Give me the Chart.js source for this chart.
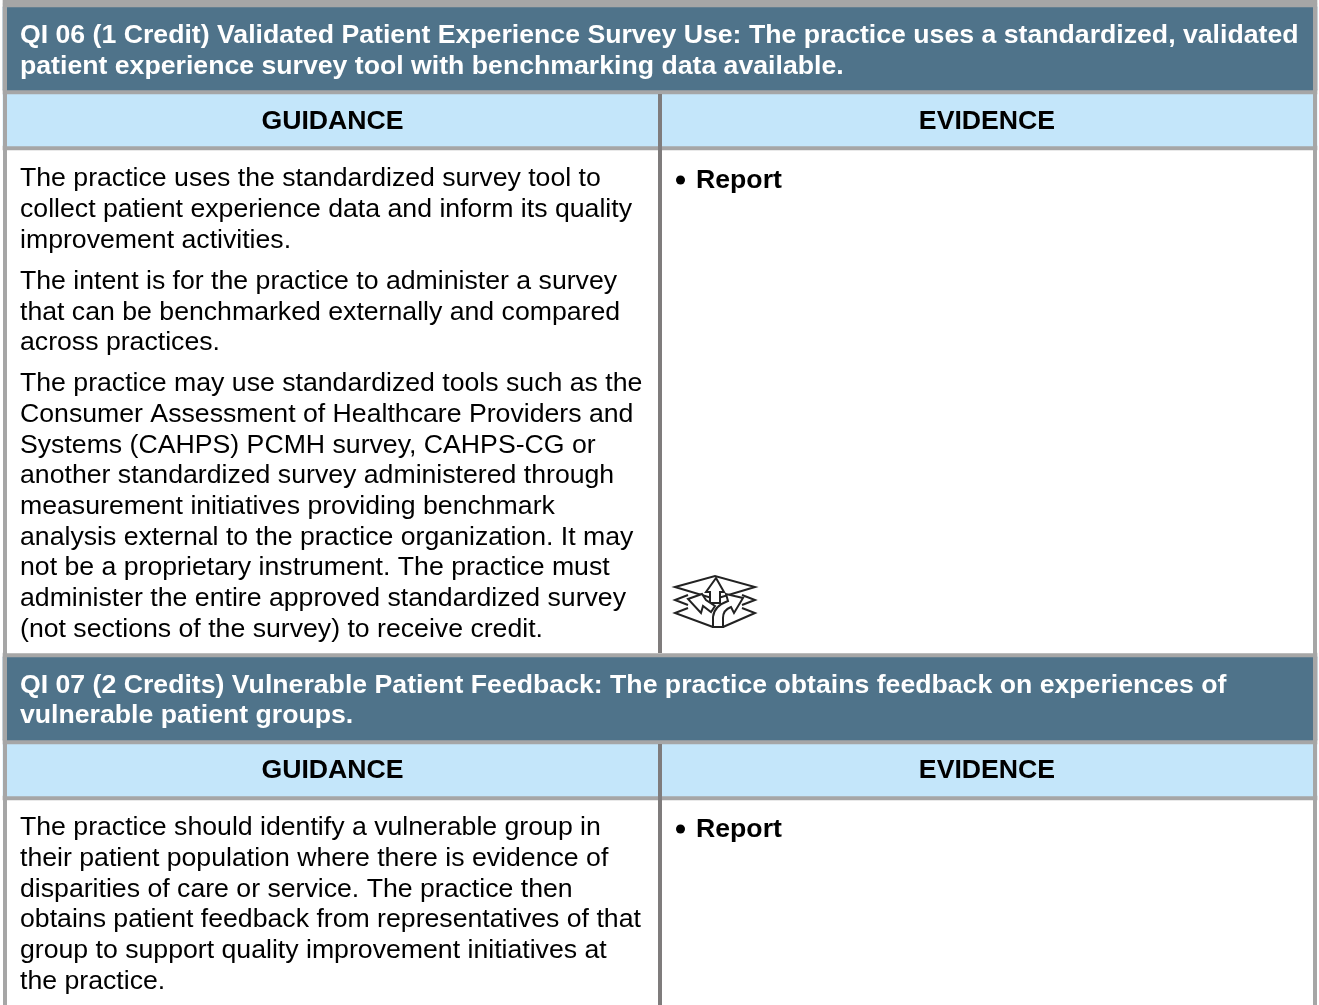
<!DOCTYPE html>
<html lang="en">
<head>
    <meta charset="UTF-8">
    <title>QI 06 / QI 07</title>
    <style>
        html, body { margin: 0; padding: 0; background: #fff; overflow: hidden; }
        #wrap { width: 1319px; height: 1005px; }
    </style>
    <script src="https://cdn.jsdelivr.net/npm/chart.js"></script>
</head>
<body>
<div id="wrap"><canvas id="table"></canvas></div>
<script>
// row heights of the table, top to bottom
const rowNames = ['top', 'rule', 'head1', 'rule', 'sub1', 'rule', 'body1', 'rule', 'head2', 'rule', 'sub2', 'rule', 'body2'];
const rowHeights = [4, 3, 83, 4, 52, 4, 503, 4, 83, 4, 52, 4, 205];

const header1 = ['QI 06 (1 Credit) Validated Patient Experience Survey Use: The practice uses a standardized, validated',
    'patient experience survey tool with benchmarking data available.'];
const header2 = ['QI 07 (2 Credits) Vulnerable Patient Feedback: The practice obtains feedback on experiences of',
    'vulnerable patient groups.'];
const columnTitles = ['GUIDANCE', 'EVIDENCE'];
const evidenceItem = 'Report';
const guidance1 = [
    'The practice uses the standardized survey tool to',
    'collect patient experience data and inform its quality',
    'improvement activities.',
    'The intent is for the practice to administer a survey',
    'that can be benchmarked externally and compared',
    'across practices.',
    'The practice may use standardized tools such as the',
    'Consumer Assessment of Healthcare Providers and',
    'Systems (CAHPS) PCMH survey, CAHPS-CG or',
    'another standardized survey administered through',
    'measurement initiatives providing benchmark',
    'analysis external to the practice organization. It may',
    'not be a proprietary instrument. The practice must',
    'administer the entire approved standardized survey',
    '(not sections of the survey) to receive credit.'
];
const guidance2 = [
    'The practice should identify a vulnerable group in',
    'their patient population where there is evidence of',
    'disparities of care or service. The practice then',
    'obtains patient feedback from representatives of that',
    'group to support quality improvement initiatives at',
    'the practice.'
];

const guidance1Y = [179, 210, 241, 282, 313, 343, 384, 415, 446, 476, 507, 538, 568, 599, 630];
const guidance2Y = [828, 859, 890, 920, 951, 982];

const GRAY = '#a6a6a6', DIVIDER = '#7f7c7c', HEAD = '#4f738a', SUB = '#c4e6fa';
const rowColors = { top: GRAY, rule: GRAY, head1: HEAD, head2: HEAD, sub1: SUB, sub2: SUB, body1: '#ffffff', body2: '#ffffff' };

function rule(x, y0, y1, color) {
    return {
        type: 'line', yAxisID: 'yRule', order: 0,
        data: [{ x: x, y: y0 }, { x: x, y: y1 }],
        borderColor: color, borderWidth: 4, pointRadius: 0, borderCapStyle: 'butt'
    };
}

const bands = rowNames.map((name, i) => ({
    type: 'bar', order: 1, stack: 'rows',
    data: [{ x: 660, y: rowHeights[i] }],
    backgroundColor: rowColors[name],
    barThickness: 1314,
    borderWidth: 0
}));

function drawIcon(ctx) {
    ctx.save();
    ctx.translate(674, 575);
    ctx.lineWidth = 2;
    ctx.strokeStyle = '#222';
    ctx.fillStyle = '#fff';
    ctx.lineJoin = 'miter';
    const shape = (pts, closed) => {
        ctx.beginPath();
        pts.forEach((p, i) => i ? ctx.lineTo(p[0], p[1]) : ctx.moveTo(p[0], p[1]));
        if (closed) { ctx.closePath(); ctx.fill(); }
        ctx.stroke();
    };
    // bottom sheet, open on top
    shape([[14, 33], [1, 38], [39, 52]]);
    shape([[68, 33], [81, 38], [49, 52]]);
    // middle sheet
    shape([[14, 20], [1, 25], [14, 30]]);
    shape([[68, 20], [81, 25], [68, 30]]);
    // top sheet
    shape([[1, 12], [41, 1], [81, 12], [41, 24]], true);
    // up arrow
    shape([[42, 3], [50, 17], [46, 17], [46, 28], [36, 28], [36, 17], [32, 17]], true);
    // left arrow
    shape([[28, 19], [14, 24], [27, 38], [29, 31], [37, 37], [41, 31], [32, 25]], true);
    // right arrow with curved stem
    ctx.beginPath();
    ctx.moveTo(39, 52);
    ctx.lineTo(39, 42);
    ctx.quadraticCurveTo(40, 31, 54, 26);
    ctx.lineTo(52, 19);
    ctx.lineTo(69, 23);
    ctx.lineTo(60, 38);
    ctx.lineTo(57, 32);
    ctx.quadraticCurveTo(49, 35, 49, 43);
    ctx.lineTo(49, 52);
    ctx.closePath();
    ctx.fill();
    ctx.stroke();
    ctx.restore();
}

const tableText = {
    id: 'tableText',
    afterDatasetsDraw(chart) {
        const ctx = chart.ctx, sx = chart.scales.x, sy = chart.scales.yRule;
        const put = (s, x, y, font, color, align) => {
            ctx.font = font;
            ctx.fillStyle = color;
            ctx.textAlign = align || 'left';
            ctx.textBaseline = 'middle';
            ctx.fillText(s, sx.getPixelForValue(x), sy.getPixelForValue(y));
        };
        const bold = 'bold 26.67px "Liberation Sans"', plain = '26.67px "Liberation Sans"';
        ctx.save();
        header1.forEach((s, i) => put(s, 20, [36, 67][i], bold, '#ffffff'));
        header2.forEach((s, i) => put(s, 20, [686, 716][i], bold, '#ffffff'));
        [122, 771].forEach(y => {
            put(columnTitles[0], 332.5, y, bold, '#000', 'center');
            put(columnTitles[1], 987, y, bold, '#000', 'center');
        });
        guidance1.forEach((s, i) => put(s, 20, guidance1Y[i], plain, '#000'));
        guidance2.forEach((s, i) => put(s, 20, guidance2Y[i], plain, '#000'));
        [181, 830].forEach(y => {
            ctx.fillStyle = '#000';
            ctx.beginPath();
            ctx.arc(sx.getPixelForValue(680.5), sy.getPixelForValue(y - 1), 4.5, 0, Math.PI * 2);
            ctx.fill();
            put(evidenceItem, 696, y, bold, '#000');
        });
        ctx.restore();
        drawIcon(ctx);
    }
};

new Chart(document.getElementById('table'), {
    data: {
        datasets: [
            rule(5, 4, 1005, GRAY),
            rule(1315, 4, 1005, GRAY),
            rule(660, 94, 653, DIVIDER),
            rule(660, 744, 1005, DIVIDER),
            ...bands
        ]
    },
    options: {
        responsive: true,
        maintainAspectRatio: false,
        animation: false,
        layout: { padding: 0 },
        plugins: { legend: { display: false }, tooltip: { enabled: false } },
        scales: {
            x: { type: 'linear', min: 0, max: 1319, display: false, offset: false },
            y: { type: 'linear', min: 0, max: 1005, reverse: true, stacked: true, display: false },
            yRule: { type: 'linear', min: 0, max: 1005, reverse: true, display: false }
        }
    },
    plugins: [tableText]
});
</script>
</body>
</html>
